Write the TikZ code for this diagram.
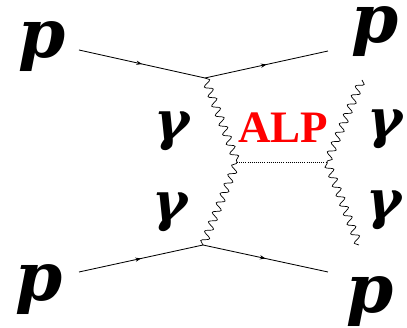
\documentclass[tikz,border=0pt]{standalone}
\usepackage{fontspec}
\setmainfont{Liberation Serif}
\newfontfamily\symfont{DejaVu Serif}
\usepackage{tikz}
\usetikzlibrary{arrows.meta,calc,decorations.markings,decorations.pathmorphing}

\begin{document}
\begin{tikzpicture}[
    ferm/.style={line width=0.6pt, black, decoration={markings, mark=at position 0.5 with {\arrow{Stealth[length=4pt,width=3pt]}}}, postaction={decorate}},
    phot/.style={line width=0.5pt, decorate, decoration={snake, segment length=2.55mm, amplitude=0.95mm}},
    axn/.style={densely dotted, line width=0.5pt},
    lbl/.style={font=\fontsize{48}{48}\selectfont\symfont\bfseries\itshape, inner sep=0pt, anchor=base},
    glbl/.style={font=\fontsize{38}{38}\selectfont\symfont\bfseries\itshape, inner sep=0pt, anchor=base},
    alplbl/.style={font=\fontsize{32}{32}\selectfont\bfseries, text=red, inner sep=0pt}
]
\useasboundingbox (0,0) rectangle (10.175,8.2);
\coordinate (Pa) at (1.975,6.95);
\coordinate (Va) at (5.125,6.25);
\coordinate (Pb) at (8.2,6.925);
\coordinate (Pc) at (1.975,1.4);
\coordinate (Vb) at (5.075,2.075);
\coordinate (Pd) at (8.2,1.4);
\coordinate (Al) at (5.925,4.15);
\coordinate (Ar) at (8.175,4.15);
\coordinate (Gb) at (9.05,6.2);
\coordinate (Gd) at (8.975,2.075);

\node[lbl] (ptl) at (1.05,6.75) {p};
\node[lbl] (ptr) at (9.375,7.125) {p};
\node[lbl] (pbl) at (0.98,0.675) {p};
\node[lbl] (pbr) at (9.26,0.375) {p};
\node[glbl] (gul) at (4.3,4.7) {γ};
\node[glbl] (gll) at (4.26,2.69) {γ};
\node[glbl] (gur) at (9.625,4.77) {γ};
\node[glbl] (glr) at (9.6,2.74) {γ};
\node[alplbl] (alp) at (7.08,5.0) {ALP};

\draw[ferm] (Pa) -- (Va);
\draw[ferm] (Va) -- (Pb);
\draw[ferm] (Pc) -- (Vb);
\draw[ferm] (Vb) -- (Pd);
\draw[phot] (Va) -- (Al);
\draw[phot] (Vb) -- (Al);
\draw[phot] (Gb) -- (Ar);
\draw[phot] (Gd) -- (Ar);
\draw[axn] (Al) -- (Ar);
\end{tikzpicture}
\end{document}
